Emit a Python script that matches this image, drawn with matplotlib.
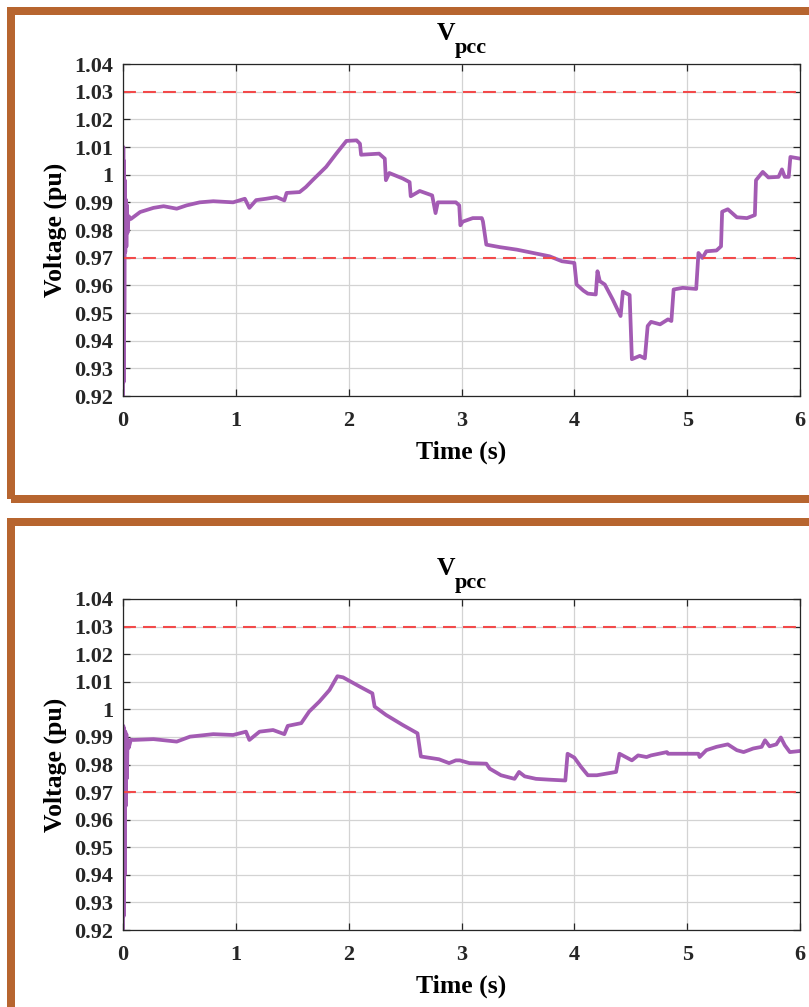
import numpy as np
import matplotlib
matplotlib.use("Agg")
import matplotlib.pyplot as plt
from matplotlib.patches import Rectangle

# Vpcc, caso 1 (painel de cima)
t_top = [0.000, 0.003, 0.006, 0.009, 0.012, 0.016, 0.020, 0.025, 0.030, 0.035, 0.040, 0.050, 0.070,
         0.093, 0.152, 0.27, 0.36, 0.476, 0.564, 0.68, 0.80, 0.976,
         1.08, 1.12, 1.18, 1.27, 1.36, 1.43, 1.45, 1.565, 1.62, 1.68,
         1.80, 1.89, 1.98, 2.07, 2.10, 2.11, 2.27, 2.32, 2.33, 2.36,
         2.48, 2.54, 2.55, 2.63, 2.74, 2.77, 2.79, 2.95, 2.98, 2.99,
         3.01, 3.10, 3.18, 3.19, 3.22, 3.34, 3.49, 3.635, 3.78, 3.89,
         4.00, 4.02, 4.08, 4.12, 4.19, 4.205, 4.226, 4.27, 4.34, 4.41,
         4.43, 4.49, 4.51, 4.58, 4.625, 4.65, 4.68, 4.76, 4.83, 4.86,
         4.88, 4.96, 5.08, 5.10, 5.135, 5.17, 5.26, 5.30, 5.31, 5.36,
         5.44, 5.53, 5.60, 5.61, 5.67, 5.72, 5.81, 5.84, 5.865, 5.90,
         5.915, 6.00]
v_top = [0.920, 1.010, 0.925, 1.005, 0.950, 0.998, 0.972, 0.991, 0.974, 0.989, 0.979, 0.985, 0.984,
         0.9847, 0.9865, 0.988, 0.9886, 0.9877, 0.9889, 0.990, 0.9904, 0.990,
         0.9913, 0.988, 0.9908, 0.9913, 0.9919, 0.9907, 0.9934, 0.9937, 0.9955, 0.998,
         1.0028, 1.0076, 1.0122, 1.0124, 1.0112, 1.0072, 1.0076, 1.0058, 0.998, 1.0006,
         0.9986, 0.9973, 0.9922, 0.9941, 0.9925, 0.9861, 0.990, 0.990, 0.9889, 0.9817,
         0.9830, 0.9843, 0.9843, 0.9831, 0.9747, 0.9738, 0.9729, 0.9717, 0.9705, 0.9687,
         0.9681, 0.9603, 0.9581, 0.957, 0.9567, 0.9651, 0.9615, 0.9603, 0.9549, 0.9489,
         0.9577, 0.9565, 0.9333, 0.9345, 0.9336, 0.9453, 0.9468, 0.9459, 0.9477, 0.9471,
         0.9585, 0.9591, 0.9587, 0.9717, 0.9699, 0.9723, 0.9726, 0.9741, 0.9866, 0.9875,
         0.9846, 0.9843, 0.9854, 0.998, 1.001, 0.999, 0.9992, 1.0019, 0.9992, 0.9992,
         1.0064, 1.0058]

# Vpcc, caso 2 (painel de baixo)
t_bot = [0.000, 0.003, 0.006, 0.010, 0.015, 0.020, 0.025, 0.030, 0.035, 0.040, 0.050, 0.070,
         0.093, 0.27, 0.476, 0.594, 0.80, 0.976, 1.09, 1.12, 1.21, 1.33,
         1.43, 1.46, 1.58, 1.65, 1.74, 1.83, 1.90, 1.95, 2.10, 2.21,
         2.23, 2.33, 2.48, 2.61, 2.64, 2.80, 2.89, 2.95, 2.985, 3.07,
         3.22, 3.25, 3.35, 3.47, 3.51, 3.56, 3.66, 3.78, 3.92, 3.94,
         4.00, 4.06, 4.12, 4.20, 4.285, 4.37, 4.40, 4.51, 4.565, 4.64,
         4.68, 4.82, 4.83, 4.96, 5.10, 5.11, 5.17, 5.26, 5.36, 5.44,
         5.50, 5.585, 5.66, 5.69, 5.73, 5.79, 5.83, 5.865, 5.91, 6.00]
v_bot = [0.920, 0.994, 0.925, 0.993, 0.940, 0.992, 0.965, 0.991, 0.975, 0.989, 0.986, 0.989,
         0.9889, 0.9892, 0.9883, 0.9901, 0.991, 0.9907, 0.9919, 0.9889, 0.9919, 0.9925,
         0.991, 0.994, 0.995, 0.9992, 1.0028, 1.007, 1.012, 1.0116, 1.0082, 1.0058,
         1.001, 0.998, 0.9943, 0.9913, 0.9829, 0.9819, 0.9805, 0.9815, 0.9815, 0.9805,
         0.9803, 0.9785, 0.9761, 0.9748, 0.9773, 0.9757, 0.9748, 0.9745, 0.9742, 0.9839,
         0.9825, 0.9791, 0.9761, 0.9761, 0.9767, 0.9773, 0.9839, 0.9815, 0.9833, 0.9827,
         0.9833, 0.9845, 0.9839, 0.9839, 0.9839, 0.9827, 0.9852, 0.9864, 0.9873, 0.9852,
         0.9845, 0.9858, 0.9864, 0.9888, 0.9866, 0.9873, 0.9898, 0.987, 0.9845, 0.9849]

limites = [1.03, 0.97]          # faixa permitida de tensao
y_ticks = [0.92, 0.93, 0.94, 0.95, 0.96, 0.97, 0.98, 0.99, 1.00, 1.01, 1.02, 1.03, 1.04]
y_labels = ['0.92', '0.93', '0.94', '0.95', '0.96', '0.97', '0.98', '0.99', '1',
            '1.01', '1.02', '1.03', '1.04']
x_ticks = [0, 1, 2, 3, 4, 5, 6]

W, H = 809, 1007
plt.rcParams['font.family'] = 'Liberation Serif'
plt.rcParams['font.weight'] = 'bold'

fig = plt.figure(figsize=(W/100, H/100), dpi=100)
fig.patch.set_facecolor('white')

borda = '#b7652f'
roxo = '#a35bb3'
vermelho = '#f24a4a'

def px(x0, y0, x1, y1):
    # caixa em pixels -> fracao da figura
    return [x0/W, 1 - y1/H, (x1 - x0)/W, (y1 - y0)/H]

# molduras
for (y0, y1) in [(11, 499), (522, 1010.5)]:
    r = Rectangle((11/W, 1 - y1/H), (830 - 11)/W, (y1 - y0)/H,
                  transform=fig.transFigure, fill=False, edgecolor=borda,
                  linewidth=8*0.72, clip_on=False)
    fig.add_artist(r)

paineis = [(64, 396, t_top, v_top, 40), (599, 930, t_bot, v_bot, 575)]

for (ytop, ybot, t, v, base) in paineis:
    ax = fig.add_axes(px(123, ytop, 800, ybot))
    ax.plot(t, v, color=roxo, linewidth=2.7, solid_joinstyle='round')
    for lim in limites:
        ax.axhline(lim, color=vermelho, linewidth=1.5, dashes=(6.2, 3.4))

    ax.set_xlim(0, 6)
    ax.set_ylim(0.92, 1.04)
    ax.set_xticks(x_ticks)
    ax.set_xticklabels([str(x) for x in x_ticks])
    ax.set_yticks(y_ticks)
    ax.set_yticklabels(y_labels)
    ax.grid(True, color='#d3d3d3', linewidth=0.9)
    ax.set_axisbelow(True)
    ax.tick_params(direction='in', length=5, width=0.9, top=True, right=True,
                   colors='#262626', labelsize=16)
    ax.tick_params(axis='x', pad=11)
    ax.tick_params(axis='y', pad=7)
    for s in ax.spines.values():
        s.set_color('#262626')
        s.set_linewidth(0.9)

    ax.set_xlabel('Time (s)', fontsize=18.5, fontweight='bold', labelpad=7)
    ax.set_ylabel('Voltage (pu)', fontsize=18.5, fontweight='bold', labelpad=5)

    # titulo V com subscrito pcc
    fig.text(437/W, 1 - base/H, 'V', fontsize=18.5, fontweight='bold',
             ha='left', va='baseline')
    fig.text(455/W, 1 - (base + 13)/H, 'pcc', fontsize=16, fontweight='bold',
             ha='left', va='baseline')

fig.savefig('out.png', dpi=100, facecolor='white')
